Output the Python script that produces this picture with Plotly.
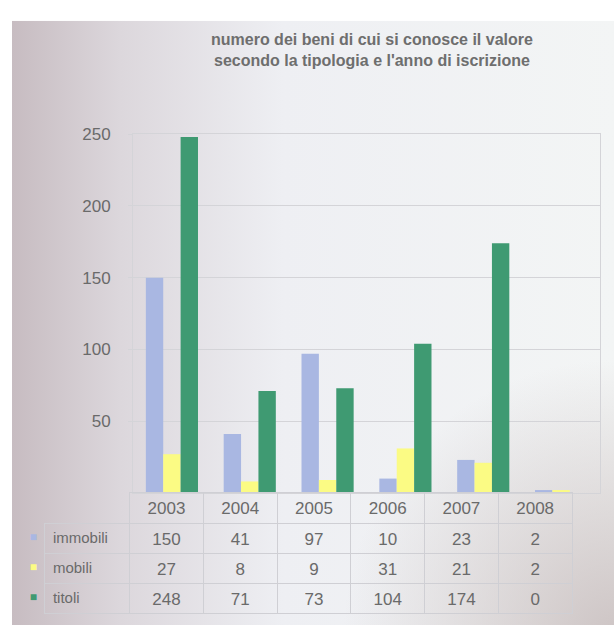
"""
Numero dei beni di cui si conosce il valore, per tipologia e anno
"""
import plotly.graph_objects as go
from urllib.parse import quote

years = ['2003', '2004', '2005', '2006', '2007', '2008']
immobili = [150, 41, 97, 10, 23, 2]
mobili = [27, 8, 9, 31, 21, 2]
titoli = [248, 71, 73, 104, 174, 0]

series = ['immobili', 'mobili', 'titoli']
colors = ['#a9b7e2', '#fbfb84', '#3f9a72']
y_ticks = [50, 100, 150, 200, 250]

W, H = 614, 625
FONT = 'Liberation Sans, Arial, sans-serif'
TXT = '#6a6a6a'


def px(x):
    return x / W


def py(y):
    return 1 - y / H


# photographed page: greyish-pink vignette on the left and bottom right
bg_svg = (
    "<svg xmlns='http://www.w3.org/2000/svg' width='602' height='613'>"
    "<defs>"
    "<linearGradient id='h' x1='0' y1='0' x2='1' y2='0'>"
    "<stop offset='0' stop-color='#c7bcc1'/>"
    "<stop offset='0.18' stop-color='#dcd7dc'/>"
    "<stop offset='0.45' stop-color='#eeeff3'/>"
    "<stop offset='1' stop-color='#f3f5f5'/>"
    "</linearGradient>"
    "<radialGradient id='r' cx='1' cy='1' r='0.45'>"
    "<stop offset='0' stop-color='#c9bfbf' stop-opacity='0.9'/>"
    "<stop offset='1' stop-color='#c9bfbf' stop-opacity='0'/>"
    "</radialGradient>"
    "</defs>"
    "<rect width='602' height='613' fill='url(#h)'/>"
    "<rect width='602' height='613' fill='url(#r)'/>"
    "</svg>"
)
bg_src = 'data:image/svg+xml;charset=utf-8,' + quote(bg_svg)

fig = go.Figure()

for name, vals, col in zip(series, [immobili, mobili, titoli], colors):
    fig.add_trace(go.Bar(
        x=years, y=vals, name=name,
        marker=dict(color=col, line=dict(width=0)),
        showlegend=False,
    ))

# data table under the chart; two first columns carry the legend keys
n = len(years)
grid = '#cfcfd4'
none = 'rgba(0,0,0,0)'
cols = [['■'] * 3, series] + [[immobili[i], mobili[i], titoli[i]] for i in range(n)]
font_colors = [colors, [TXT] * 3] + [[TXT] * 3] * n

fig.add_trace(go.Table(
    domain=dict(x=[px(30), px(572)], y=[py(614), py(491)]),
    columnwidth=[15, 85] + [74] * n,
    header=dict(
        values=['', ''] + years,
        height=31,
        align='center',
        fill=dict(color=none),
        line=dict(color=[none, none] + [grid] * n, width=1),
        font=dict(family=FONT, size=17, color=TXT),
    ),
    cells=dict(
        values=cols,
        height=30,
        align=['right', 'left'] + ['center'] * n,
        fill=dict(color=none),
        line=dict(color=[none, grid] + [grid] * n, width=1),
        font=dict(family=FONT, size=[12, 15] + [17] * n, color=font_colors),
    ),
))

fig.update_layout(
    width=W, height=H,
    margin=dict(l=0, r=0, t=0, b=0),
    paper_bgcolor='white',
    plot_bgcolor=none,
    barmode='group',
    bargap=0.33,
    bargroupgap=0,
    font=dict(family=FONT, color=TXT),
    images=[dict(
        source=bg_src, xref='paper', yref='paper',
        x=px(12), y=py(12), sizex=px(602), sizey=1 - py(625),
        xanchor='left', yanchor='top', sizing='stretch', layer='below',
    )],
    annotations=[dict(
        text='numero dei beni di cui si conosce il valore<br>'
             'secondo la tipologia e l\'anno di iscrizione',
        xref='paper', yref='paper', x=px(372), y=py(20),
        xanchor='center', yanchor='top', showarrow=False, align='center',
        font=dict(family=FONT, size=16, color='#6e6e6e', weight='bold'),
    )],
    xaxis=dict(
        domain=[px(133), px(600)],
        showticklabels=False, ticks='',
        showgrid=False, showline=True, linecolor='#d4d4d8', mirror=True,
    ),
    yaxis=dict(
        domain=[py(491), py(127)],
        range=[0, 250],
        tickvals=y_ticks,
        showgrid=True, gridcolor='#d4d4d8', gridwidth=1,
        ticks='outside', ticklen=4, tickcolor='#d4d4d8',
        ticklabelstandoff=14,
        showline=True, linecolor='#d4d4d8', mirror=True,
        zeroline=False,
        tickfont=dict(family=FONT, size=17, color=TXT),
    ),
)

fig.write_html('out.html', config={'displayModeBar': False},
               post_script="document.body.style.margin='0';")
